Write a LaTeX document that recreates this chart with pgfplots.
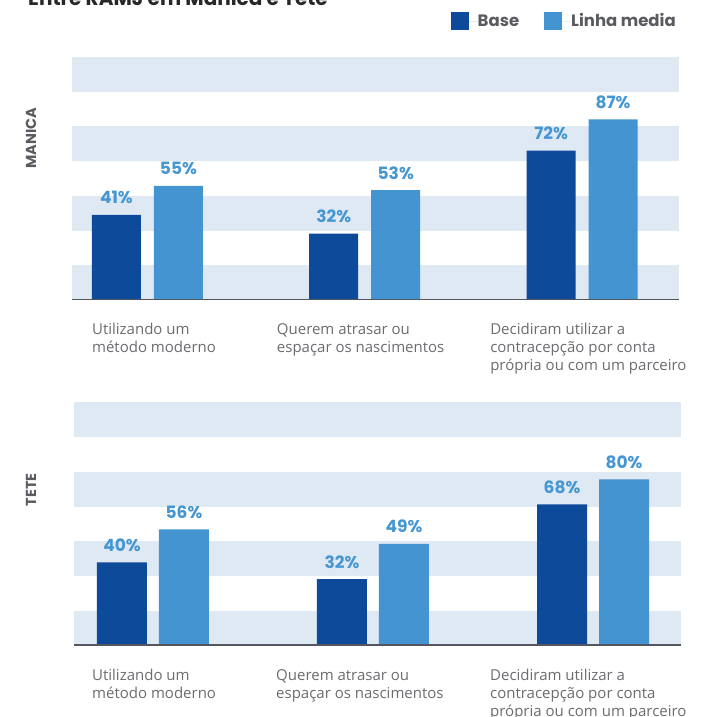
\documentclass[border=0pt]{standalone}
\usepackage{fontspec}
\setmainfont{Open Sans}
\newfontfamily\pop{Poppins}
\usepackage{pgfplots}
\pgfplotsset{compat=1.18}
\definecolor{basec}{RGB}{14,74,154}
\definecolor{linhac}{RGB}{67,148,208}
\definecolor{bandc}{RGB}{223,233,244}
\definecolor{axislinec}{RGB}{85,87,95}
\definecolor{labgray}{RGB}{107,108,112}
\definecolor{valc}{RGB}{70,150,210}
\definecolor{panelgray}{RGB}{90,91,96}
\definecolor{titlec}{RGB}{40,40,42}
\newcommand{\lab}[2]{\hspace*{#1}\begin{tabular}{@{}l@{}}#2\end{tabular}}
\pgfplotsset{
  sqlegend/.style={legend image code/.code={\fill[##1,draw=none] (0pt,-9pt) rectangle (18pt,9pt); \path (0pt,0pt) -- (27pt,0pt);}},
  panel/.style={
    scale only axis, width=607pt, height=243pt, anchor=south west,
    ymin=0, ymax=117.1,
    ybar, bar width=#1,
    axis line style={draw=none}, tick style={draw=none},
    ytick=\empty, xtick={0,1,2},
    xticklabel style={anchor=north west, inner sep=0pt, yshift=-17.5pt, text=labgray, font=\fontsize{15}{18}\selectfont},
    /pgf/number format/assume math mode=true,
    nodes near coords={\pgfmathprintnumber{\pgfplotspointmeta}\%},
    every node near coord/.append style={font=\pop\bfseries\fontsize{17}{17}\selectfont, text=valc, anchor=base, yshift=11pt, inner sep=0pt},
  },
}
\begin{document}
\begin{tikzpicture}
\useasboundingbox (0,0) rectangle (715pt,717pt);
\node[anchor=base west, inner sep=0pt, font=\pop\bfseries\fontsize{20}{20}\selectfont, text=titlec] at (28pt,711pt) {Entre RAMJ em Manica e Tete};
\node[rotate=90, inner sep=0pt, font=\pop\bfseries\fontsize{14.5}{14.5}\selectfont, text=panelgray] at (31pt,579pt) {MANICA};
\node[rotate=90, inner sep=0pt, font=\pop\bfseries\fontsize{14.5}{14.5}\selectfont, text=panelgray] at (31pt,227pt) {TETE};
% Top panel: MANICA
\begin{axis}[panel=49pt, at={(72pt,417pt)}, xmin=-0.347, xmax=2.446,
  xticklabels={{\lab{-55.5pt}{Utilizando um\\método moderno}},{\lab{-88pt}{Querem atrasar ou\\espaçar os nascimentos}},{\lab{-92pt}{Decidiram utilizar a\\contracepção por conta\\própria ou com um parceiro}}},
  legend columns=2,
  legend style={at={(0.995,1.148)}, anchor=east, draw=none, fill=none, inner sep=0pt,
    nodes={inner sep=0pt},
    font=\pop\bfseries\fontsize{16.5}{17}\selectfont, text=panelgray,
    /tikz/every even column/.append style={column sep=25pt}},
  legend cell align=left]
\fill[bandc] (rel axis cs:0,0) rectangle (rel axis cs:1,1/7);
\fill[bandc] (rel axis cs:0,2/7) rectangle (rel axis cs:1,3/7);
\fill[bandc] (rel axis cs:0,4/7) rectangle (rel axis cs:1,5/7);
\fill[bandc] (rel axis cs:0,6/7) rectangle (rel axis cs:1,1);
\addplot[fill=basec, draw=none, bar shift=-31pt, sqlegend] coordinates {(0,41) (1,32) (2,72)};
\addplot[fill=linhac, draw=none, bar shift=31pt, sqlegend] coordinates {(0,55) (1,53) (2,87)};
\legend{Base, Linha media}
\draw[axislinec, line width=2pt] (rel axis cs:0,0) -- (rel axis cs:1,0);
\end{axis}
% Bottom panel: TETE
\begin{axis}[panel=50pt, at={(74pt,71.5pt)}, xmin=-0.359, xmax=2.4,
  xticklabels={{\lab{-61pt}{Utilizando um\\método moderno}},{\lab{-97pt}{Querem atrasar ou\\espaçar os nascimentos}},{\lab{-103pt}{Decidiram utilizar a\\contracepção por conta\\própria ou com um parceiro}}}]
\fill[bandc] (rel axis cs:0,0) rectangle (rel axis cs:1,1/7);
\fill[bandc] (rel axis cs:0,2/7) rectangle (rel axis cs:1,3/7);
\fill[bandc] (rel axis cs:0,4/7) rectangle (rel axis cs:1,5/7);
\fill[bandc] (rel axis cs:0,6/7) rectangle (rel axis cs:1,1);
\addplot[fill=basec, draw=none, bar shift=-31pt] coordinates {(0,40) (1,32) (2,68)};
\addplot[fill=linhac, draw=none, bar shift=31pt] coordinates {(0,56) (1,49) (2,80)};
\draw[axislinec, line width=2pt] (rel axis cs:0,0) -- (rel axis cs:1,0);
\end{axis}
\end{tikzpicture}
\end{document}
